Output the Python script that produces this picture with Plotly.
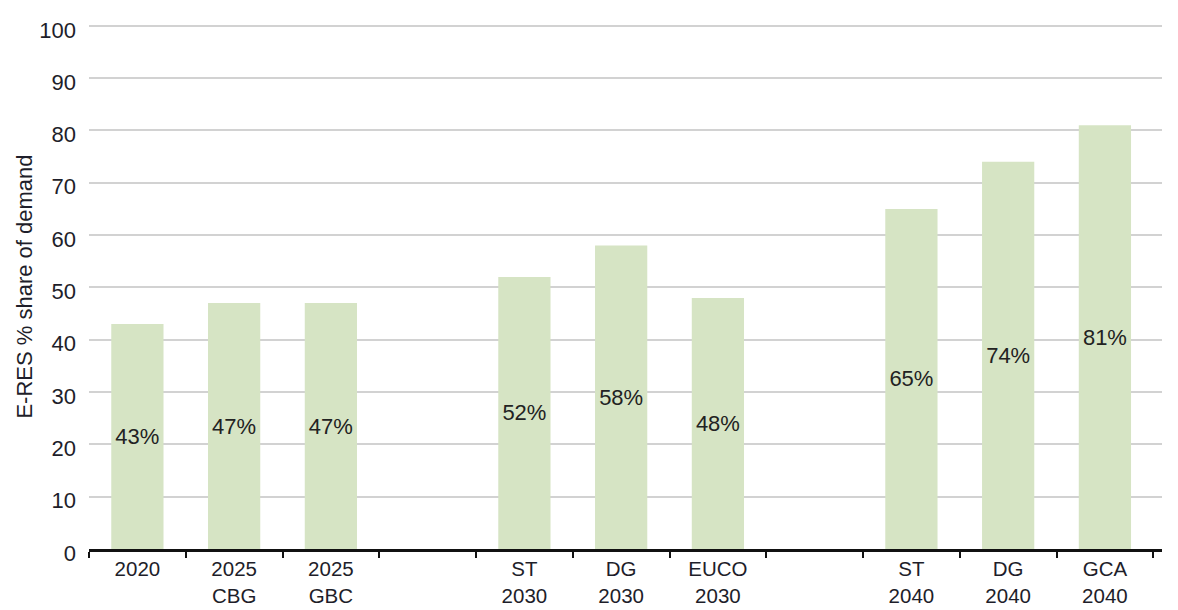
import plotly.graph_objects as go

# Slot order along the x axis, with blank spacer slots between scenario groups
slots = ["2020", "2025<br>CBG", "2025<br>GBC", " ",
         "ST<br>2030", "DG<br>2030", "EUCO<br>2030", "  ",
         "ST<br>2040", "DG<br>2040", "GCA<br>2040"]

scenarios = ["2020", "2025<br>CBG", "2025<br>GBC",
             "ST<br>2030", "DG<br>2030", "EUCO<br>2030",
             "ST<br>2040", "DG<br>2040", "GCA<br>2040"]
res_share = [43, 47, 47, 52, 58, 48, 65, 74, 81]

y_ticks = [0, 10, 20, 30, 40, 50, 60, 70, 80, 90, 100]

FONT = "Liberation Sans, Arial, sans-serif"
TEXT = "#1e1e2a"
SIZE = 22

fig = go.Figure(
    go.Bar(
        x=scenarios,
        y=res_share,
        width=0.54,
        marker=dict(color="#d6e4c4", line=dict(width=0)),
        text=[f"{v}%" for v in res_share],
        textposition="inside",
        insidetextanchor="middle",
        textangle=0,
        textfont=dict(family=FONT, size=SIZE, color="#222222"),
        hoverinfo="x+y",
    )
)

fig.update_layout(
    width=1178,
    height=610,
    margin=dict(l=89, r=16, t=24, b=61, autoexpand=False),
    paper_bgcolor="white",
    plot_bgcolor="white",
    showlegend=False,
    font=dict(family=FONT, size=SIZE, color=TEXT),
    uniformtext=dict(minsize=SIZE, mode="show"),
)

fig.update_xaxes(
    type="category",
    categoryorder="array",
    categoryarray=slots,
    range=[-0.5, 10.59],
    tickson="boundaries",
    ticks="outside",
    ticklen=6,
    tickwidth=2,
    tickcolor="#111111",
    showline=True,
    linecolor="#111111",
    linewidth=2.5,
    showgrid=False,
    automargin=False,
    tickfont=dict(family=FONT, size=20.5, color=TEXT),
)

fig.update_yaxes(
    range=[0, 100.35],
    tickvals=y_ticks,
    showgrid=True,
    gridcolor="#d2d2d2",
    gridwidth=1.5,
    zeroline=False,
    showline=False,
    ticks="",
    automargin=False,
    ticklabelstandoff=12,
    ticklabelshift=4,
    tickfont=dict(family=FONT, size=SIZE, color=TEXT),
    title=dict(text="E-RES % share of demand",
               font=dict(family=FONT, size=SIZE, color=TEXT),
               standoff=0),
)

fig.write_html("out.html")
